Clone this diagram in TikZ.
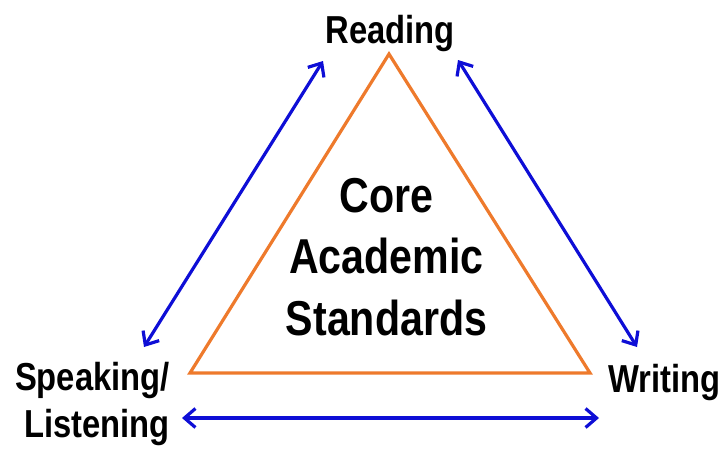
\documentclass[tikz,border=0pt]{standalone}
\usepackage{fontspec}
\usepackage{tikz}
\usetikzlibrary{arrows.meta}
\newfontfamily\lblfont[FakeStretch=0.84]{Liberation Sans}
\definecolor{triorange}{RGB}{238,122,44}
\definecolor{arrowblue}{RGB}{14,14,214}

\begin{document}
\begin{tikzpicture}[x=1pt, y=-1pt,
  skill/.style={font=\lblfont\bfseries\fontsize{39}{47}\selectfont, inner sep=0pt},
  core/.style={font=\lblfont\bfseries\fontsize{49}{61.5}\selectfont, inner sep=0pt, align=center},
  link/.style={draw=arrowblue, line width=3.2pt, {Straight Barb[length=11pt,width=19pt]}-{Straight Barb[length=11pt,width=19pt]}},
  tri/.style={draw=triorange, line width=3.2pt, line join=miter}]
\useasboundingbox (0,0) rectangle (722,448);
\coordinate (apex) at (389,54);
\coordinate (left) at (190,373);
\coordinate (right) at (590,373);
\draw[tri] (apex) -- (left) -- (right) -- cycle;
\node[skill, anchor=base] (reading) at (390,43) {Reading};
\node[skill, anchor=base east, align=right] (speaking) at (170,437) {Speaking/\\Listening};
\node[skill, anchor=base west] (writing) at (608,392) {Writing};
\node[core, anchor=base] (standards) at (386.5,335) {Core\\Academic\\Standards};
\coordinate (rl) at (323,61);
\coordinate (sl) at (144,347);
\coordinate (rw) at (458,60);
\coordinate (wr) at (637,347);
\coordinate (sw) at (182,418);
\coordinate (ws) at (599,418);
\draw[link] (rl) -- (sl);
\draw[link] (rw) -- (wr);
\draw[link] (sw) -- (ws);
\end{tikzpicture}
\end{document}
